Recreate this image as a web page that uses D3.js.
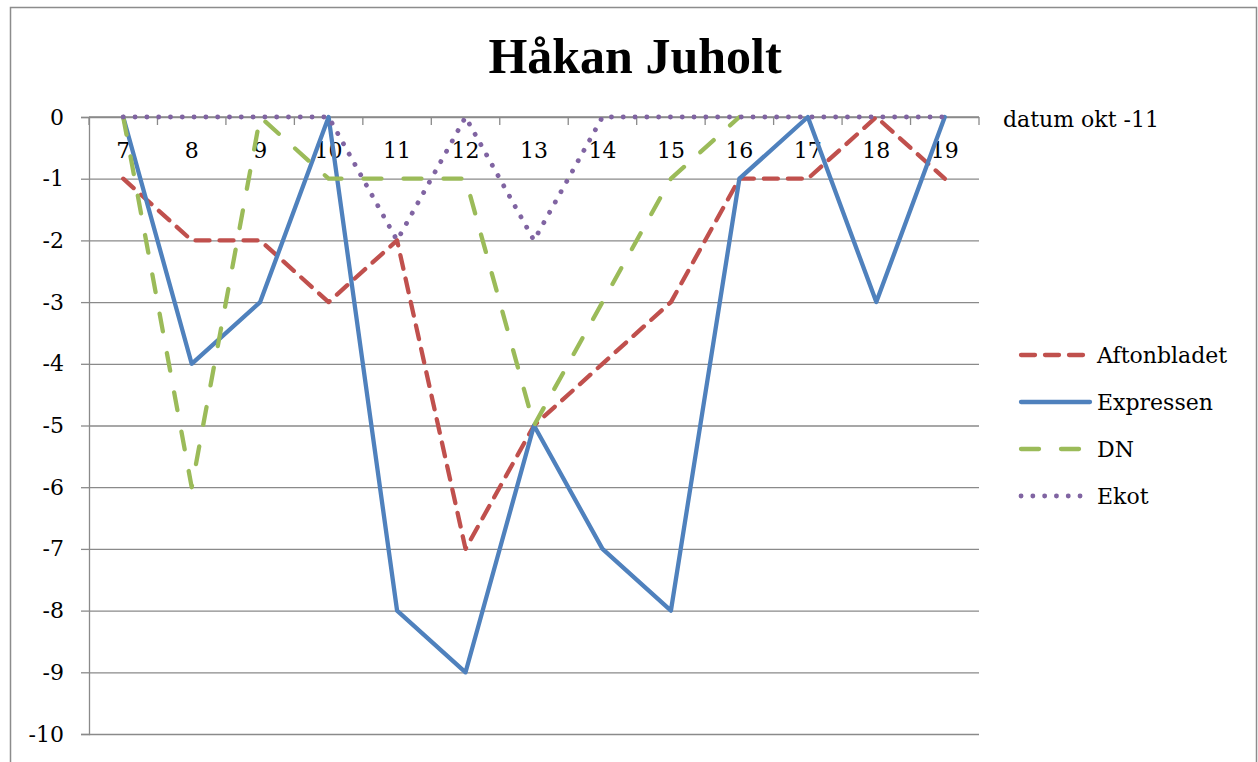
<!DOCTYPE html>
<html>
<head>
<meta charset="utf-8">
<script src="https://cdn.jsdelivr.net/npm/d3@7"></script>
<style>
  body { margin: 0; background: #fff; }
  svg text { fill: #000; }
</style>
</head>
<body>
<svg id="chart"></svg>
<script>
// dagar i oktober 2011
const dates = ["7", "8", "9", "10", "11", "12", "13", "14", "15", "16", "17", "18", "19"];
const aftonbladet = [-1, -2, -2, -3, -2, -7, -5, -4, -3, -1, -1, 0, -1];
const expressen = [0, -4, -3, 0, -8, -9, -5, -7, -8, -1, 0, -3, 0];
const dn = [0, -6, 0, -1, -1, -1, -5, -3, -1, 0, null, null, null];
const ekot = [0, 0, 0, 0, -2, 0, -2, 0, 0, 0, 0, 0, 0];
const yTicks = [0, -1, -2, -3, -4, -5, -6, -7, -8, -9, -10];

const series = [
  { name: "Aftonbladet", values: aftonbladet, color: "#C0504D", dash: "14,10" },
  { name: "Expressen", values: expressen, color: "#4F81BD", dash: null },
  { name: "DN", values: dn, color: "#9BBB59", dash: "18,22" },
  { name: "Ekot", values: ekot, color: "#8064A2", dash: "0.1,11.7" }
];

const width = 1258;
const height = 762;
const plot = { left: 89, right: 979, top: 117, bottom: 734 };
const labelFont = "DejaVu Serif";

const svg = d3.select("#chart")
    .attr("width", width)
    .attr("height", height);

// ram runt diagrammet
svg.append("rect")
    .attr("x", 10.5).attr("y", 7.5)
    .attr("width", 1246).attr("height", 780)
    .attr("fill", "none")
    .attr("stroke", "#8c8c8c")
    .attr("stroke-width", 1.5);

const x = d3.scaleBand()
    .domain(dates)
    .range([plot.left, plot.right]);

const y = d3.scaleLinear()
    .domain([-10, 0])
    .range([plot.bottom, plot.top]);

const cx = d => x(d) + x.bandwidth() / 2;

// stödlinjer
svg.append("g")
    .attr("transform", `translate(${plot.left},0)`)
    .call(d3.axisRight(y).tickValues(yTicks).tickSize(plot.right - plot.left).tickFormat(""))
    .call(g => g.select(".domain").remove())
    .call(g => g.selectAll("line").attr("stroke", "#8a8a8a").attr("stroke-width", 1.3));

// y-axel
svg.append("g")
    .attr("transform", `translate(${plot.left},0)`)
    .call(d3.axisLeft(y).tickValues(yTicks).tickSize(8).tickPadding(17).tickFormat(d => String(d)))
    .call(g => g.select(".domain").attr("stroke", "#8a8a8a").attr("stroke-width", 1.3))
    .call(g => g.selectAll("line").attr("stroke", "#8a8a8a").attr("stroke-width", 1.3))
    .call(g => g.selectAll("text")
        .style("font-size", "22px")
        .style("font-family", labelFont));

// x-axel vid noll
const xAxis = svg.append("g")
    .attr("transform", `translate(0,${y(0)})`);

xAxis.append("line")
    .attr("x1", plot.left).attr("x2", plot.right)
    .attr("stroke", "#8a8a8a").attr("stroke-width", 1.3);

const bounds = dates.map(d => x(d)).concat([plot.right]);
xAxis.selectAll(".tick-b")
    .data(bounds)
    .enter().append("line")
    .attr("x1", d => d).attr("x2", d => d)
    .attr("y1", 0).attr("y2", 8)
    .attr("stroke", "#8a8a8a").attr("stroke-width", 1.3);

xAxis.selectAll(".lbl")
    .data(dates)
    .enter().append("text")
    .attr("x", cx)
    .attr("y", 41)
    .attr("text-anchor", "middle")
    .style("font-family", labelFont)
    .style("font-size", "22px")
    .text(d => d);

svg.append("text")
    .attr("x", 1003)
    .attr("y", 127)
    .style("font-family", labelFont)
    .style("font-size", "22px")
    .text("datum okt -11");

// linjer
const line = d3.line()
    .defined(v => v !== null)
    .x((v, i) => cx(dates[i]))
    .y(v => y(v));

svg.append("g")
    .selectAll("path")
    .data(series)
    .enter().append("path")
    .attr("d", s => line(s.values))
    .attr("fill", "none")
    .attr("stroke", s => s.color)
    .attr("stroke-width", s => s.name === "Ekot" ? 4.8 : 4.3)
    .attr("stroke-linecap", "round")
    .attr("stroke-linejoin", "round")
    .attr("stroke-dasharray", s => s.dash);

// titel
svg.append("text")
    .attr("x", 635)
    .attr("y", 73)
    .attr("text-anchor", "middle")
    .style("font-family", "Liberation Serif")
    .style("font-weight", "bold")
    .style("font-size", "50px")
    .text("Håkan Juholt");

// förklaring
const legend = svg.append("g")
    .selectAll("g")
    .data(series)
    .enter().append("g")
    .attr("transform", (d, i) => `translate(1021,${355 + i * 47})`);

legend.append("line")
    .attr("x1", 0).attr("x2", 69)
    .attr("stroke", d => d.color)
    .attr("stroke-width", d => d.name === "Ekot" ? 4.8 : 4.3)
    .attr("stroke-linecap", "round")
    .attr("stroke-dasharray", d => d.dash);

legend.append("text")
    .attr("x", 76)
    .attr("y", 8)
    .style("font-family", labelFont)
    .style("font-size", "22px")
    .text(d => d.name);
</script>
</body>
</html>
